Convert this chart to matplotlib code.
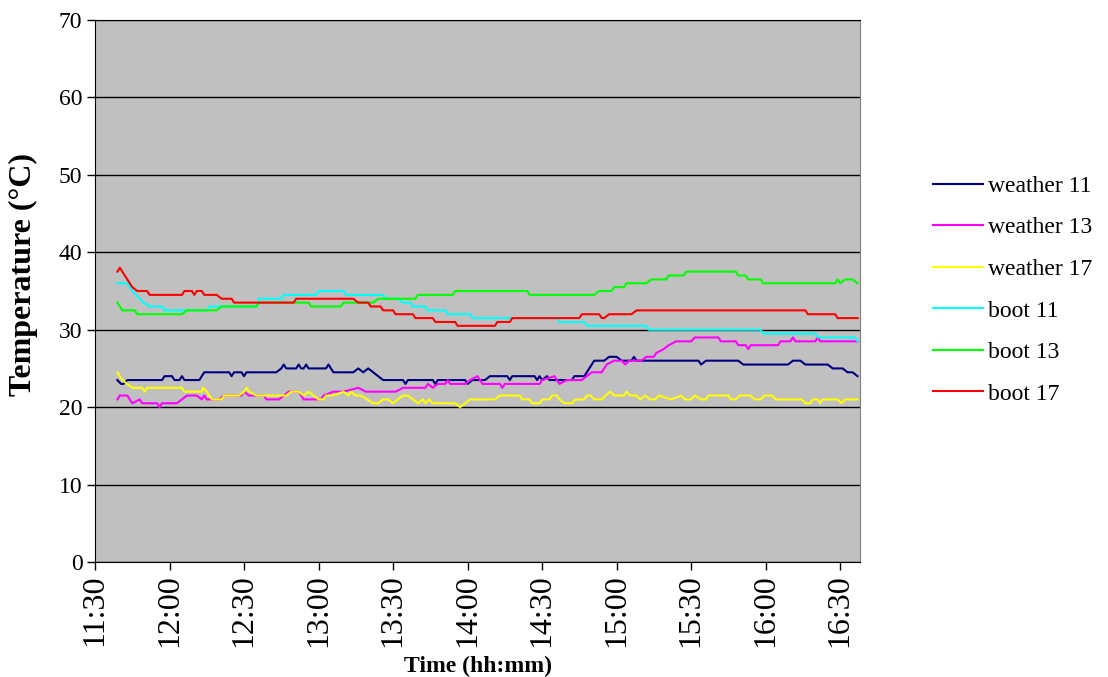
import matplotlib
matplotlib.use("Agg")
import matplotlib.pyplot as plt
import numpy as np

# readings: minutes after 11:30, temperature in degC
t_w11 = [9, 10.5, 11.5, 13, 27, 28, 31, 32, 34, 35, 36, 42, 44, 54, 55, 56, 59, 60, 61, 73, 75, 76, 77,
         81, 82, 83, 84, 85, 86, 93, 94, 96, 104, 106, 108, 110, 112, 114, 116, 124, 125, 126, 136, 137,
         138, 149, 150, 152, 157, 159, 166, 167, 168, 177, 178, 179, 180, 182, 183, 192, 193, 197, 198,
         199, 201, 205, 207, 210, 212, 216, 217, 218, 243, 244, 246, 259, 261, 279, 281, 284, 286, 295,
         297, 301, 303, 305, 307]
v_w11 = [23.5, 23, 23, 23.5, 23.5, 24, 24, 23.5, 23.5, 24, 23.5, 23.5, 24.5, 24.5, 24, 24.5, 24.5, 24,
         24.5, 24.5, 25, 25.5, 25, 25, 25.5, 25, 25, 25.5, 25, 25, 25.5, 24.5, 24.5, 25, 24.5, 25, 24.5,
         24, 23.5, 23.5, 23, 23.5, 23.5, 23, 23.5, 23.5, 23, 23.5, 23.5, 24, 24, 23.5, 24, 24, 23.5, 24,
         23.5, 24, 23.5, 23.5, 24, 24, 24.5, 25, 26, 26, 26.5, 26.5, 26, 26, 26.5, 26, 26, 25.5, 26, 26,
         25.5, 25.5, 26, 26, 25.5, 25.5, 25, 25, 24.5, 24.5, 24]

t_w13 = [9, 10, 13, 15, 18, 19, 25, 26, 27, 33, 35, 37, 41, 43, 44, 45, 50, 52, 59, 60, 62, 68, 69, 74,
         76, 78, 82, 83, 84, 91, 92, 96, 100, 106, 109, 121, 124, 133, 134, 136, 138, 141, 142, 143, 149,
         151, 154, 156, 163, 164, 165, 179, 180, 185, 187, 190, 196, 198, 200, 204, 206, 209, 212, 213.5,
         215, 220, 222, 225, 226, 229, 231, 234, 240, 241.5, 251, 252, 258, 259, 262, 263, 264, 275, 276,
         280, 281, 282, 290, 291, 292, 307]
v_w13 = [21, 21.5, 21.5, 20.5, 21, 20.5, 20.5, 20, 20.5, 20.5, 21, 21.5, 21.5, 21, 21.5, 21, 21, 21.5,
         21.5, 22, 21.5, 21.5, 21, 21, 21.5, 22, 22, 21.5, 21, 21, 21.5, 22, 22, 22.5, 22, 22, 22.5, 22.5,
         23, 22.5, 23, 23, 23.5, 23, 23, 23.5, 24, 23, 23, 22.5, 23, 23, 23.5, 24, 23, 23.5, 23.5, 24,
         24.5, 24.5, 25.5, 26, 26, 25.5, 26, 26, 26.5, 26.5, 27, 27.5, 28, 28.5, 28.5, 29, 29, 28.5, 28.5,
         28, 28, 27.5, 28, 28, 28.5, 28.5, 29, 28.5, 28.5, 29, 28.5, 28.5]

t_w17 = [9, 11, 13, 15, 19, 20, 21, 35, 36, 43, 43.5, 45, 47, 51, 52, 58, 60, 61, 62, 65, 77, 79, 82, 84,
         86, 88, 90, 92, 93, 96, 100, 102, 103, 105, 107, 112, 114, 116, 118, 120, 122, 124, 126, 128, 130,
         132, 133, 134.5, 136, 145, 147, 149, 151, 153, 161, 163, 171, 172, 175, 176, 179, 180, 183, 184,
         186, 187, 189, 192, 193.5, 197, 198, 199.5, 201, 204, 205.5, 207.5, 209, 213, 214, 215.5, 218,
         219.5, 221.5, 223.5, 225.5, 227, 232, 236, 237.5, 240, 241.5, 244, 246, 247, 255, 256, 258, 259.5,
         264, 265.5, 268, 269.5, 272.5, 274, 284.5, 286, 288, 289, 291, 292, 293, 299, 300.5, 302, 307]
v_w17 = [24.5, 23.5, 23, 22.5, 22.5, 22, 22.5, 22.5, 22, 22, 22.5, 22, 21, 21, 21.5, 21.5, 22, 22.5, 22,
         21.5, 21.5, 22, 22, 21.5, 22, 21.5, 21, 21, 21.5, 21.5, 22, 21.5, 22, 21.5, 21.5, 20.5, 20.5, 21,
         21, 20.5, 21, 21.5, 21.5, 21, 20.5, 21, 20.5, 21, 20.5, 20.5, 20, 20.5, 21, 21, 21, 21.5, 21.5,
         21, 21, 20.5, 20.5, 21, 21, 21.5, 21.5, 21, 20.5, 20.5, 21, 21, 21.5, 21.5, 21, 21, 21.5, 22,
         21.5, 21.5, 22, 21.5, 21.5, 21, 21.5, 21, 21, 21.5, 21, 21.5, 21, 21, 21.5, 21, 21, 21.5, 21.5,
         21, 21, 21.5, 21.5, 21, 21, 21.5, 21.5, 21, 21, 20.5, 20.5, 21, 21, 20.5, 21, 21, 20.5, 21, 21]

t_b11 = [9, 13, 15, 18, 19.5, 22, 27, 28, 45, 46, 65, 66, 75, 76, 89, 90, 100, 101, 116, 117, 122, 124,
         127, 128, 133, 134, 141, 142, 151, 152, 186, 187, 197, 198, 222, 223, 268, 269, 290, 291, 306, 307]
v_b11 = [36, 36, 35, 34, 33.5, 33, 33, 32.5, 32.5, 33, 33, 34, 34, 34.5, 34.5, 35, 35, 34.5, 34.5, 34, 34,
         33.5, 33.5, 33, 33, 32.5, 32.5, 32, 32, 31.5, 31.5, 31, 31, 30.5, 30.5, 30, 30, 29.5, 29.5, 29,
         29, 28.5]

t_b13 = [9, 10, 11, 16, 17, 35, 37, 49, 51, 65, 66, 86, 87, 99, 100, 112, 114, 129, 130, 144, 145, 174,
         175, 201, 203, 208, 209, 213, 214, 222, 224, 230, 231, 237, 238, 258, 259, 262, 263, 268, 269,
         298, 299, 300, 302, 305, 307]
v_b13 = [33.5, 33, 32.5, 32.5, 32, 32, 32.5, 32.5, 33, 33, 33.5, 33.5, 33, 33, 33.5, 33.5, 34, 34, 34.5,
         34.5, 35, 35, 34.5, 34.5, 35, 35, 35.5, 35.5, 36, 36, 36.5, 36.5, 37, 37, 37.5, 37.5, 37, 37,
         36.5, 36.5, 36, 36, 36.5, 36, 36.5, 36.5, 36]

t_b17 = [9, 10, 12, 15, 17, 21, 22, 35, 36, 39, 40, 41, 43, 44, 49, 51, 55, 56, 80, 81, 104, 106, 110,
         111, 115, 116, 120, 121, 128, 129, 136, 137, 145, 146, 161, 162, 167, 168, 195, 196, 203, 204,
         205, 207, 216, 218, 286, 287, 298, 299, 307]
v_b17 = [37.5, 38, 37, 35.5, 35, 35, 34.5, 34.5, 35, 35, 34.5, 35, 35, 34.5, 34.5, 34, 34, 33.5, 33.5,
         34, 34, 33.5, 33.5, 33, 33, 32.5, 32.5, 32, 32, 31.5, 31.5, 31, 31, 30.5, 30.5, 31, 31, 31.5,
         31.5, 32, 32, 31.5, 31.5, 32, 32, 32.5, 32.5, 32, 32, 31.5, 31.5]

labels = ["weather 11", "weather 13", "weather 17", "boot 11", "boot 13", "boot 17"]
colors = ["#000080", "#FF00FF", "#FFFF00", "#00FFFF", "#00FF00", "#FF0000"]
series = [(t_w11, v_w11), (t_w13, v_w13), (t_w17, v_w17),
          (t_b11, v_b11), (t_b13, v_b13), (t_b17, v_b17)]

tick_labels = ["11:30", "12:00", "12:30", "13:00", "13:30", "14:00",
               "14:30", "15:00", "15:30", "16:00", "16:30"]
start = 11 * 60 + 30

serif = ["Liberation Serif", "DejaVu Serif"]

fig = plt.figure(figsize=(11.08, 6.77), dpi=100)
ax = fig.add_axes([95 / 1108, 1 - 562 / 677, 765 / 1108, 542 / 677])
ax.set_facecolor("#C0C0C0")

for (t, v), lab, c in zip(series, labels, colors):
    ax.plot(start + np.array(t), v, color=c, lw=1.5, label=lab)

ax.set_xlim(start, start + 308)
ax.set_ylim(0, 70)
ax.set_yticks(range(0, 71, 10))
ax.yaxis.grid(True, color="black", lw=1)
ax.set_axisbelow(True)
ax.set_xticks([start + 30 * i for i in range(len(tick_labels))])
ax.set_xticklabels(tick_labels, rotation=90, family=serif, fontsize=23)
for lab in ax.get_yticklabels():
    lab.set_family(serif)
    lab.set_fontsize(17)
ax.tick_params(direction="out", length=6, width=1, color="black", pad=3)

for s in ["left", "bottom", "top"]:
    ax.spines[s].set_color("black")
ax.spines["right"].set_color("#808080")

ax.set_xlabel("Time (hh:mm)", family=serif, fontsize=17, fontweight="bold", labelpad=6)
ax.set_ylabel("Temperature (\u00b0C)", family=serif, fontsize=23, fontweight="bold")
ax.yaxis.set_label_coords(-0.075, 0.53)

leg = fig.legend(loc="center left", bbox_to_anchor=(912 / 1108, 1 - 290 / 677), frameon=False,
                 prop={"family": serif, "size": 17}, handlelength=2.1, handletextpad=0.2,
                 labelspacing=0.85)

fig.savefig("out.png", dpi=100)
